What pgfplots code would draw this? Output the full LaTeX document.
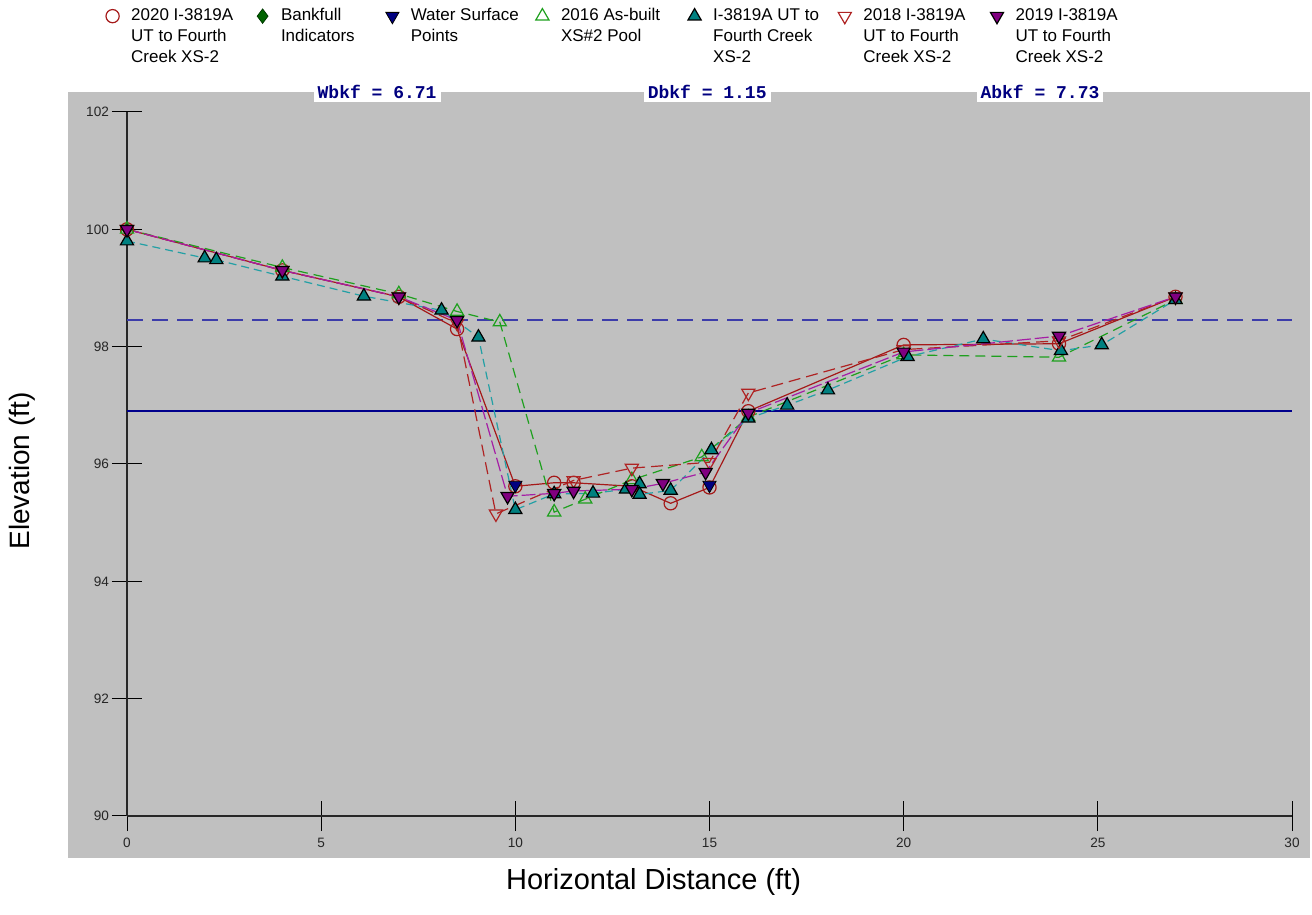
\documentclass[border=0pt]{standalone}
\usepackage{fontspec}
\setmainfont{Liberation Sans}
\newfontfamily\monob{Liberation Mono}
\usepackage{pgfplots}
\pgfplotsset{compat=1.18}
\definecolor{bggray}{RGB}{192,192,192}
\definecolor{c2020}{RGB}{165,25,25}
\definecolor{c2018}{RGB}{175,35,35}
\definecolor{c2019l}{RGB}{165,30,165}
\definecolor{c2019f}{RGB}{128,0,128}
\definecolor{tealf}{RGB}{0,128,128}
\definecolor{teall}{RGB}{35,160,165}
\definecolor{green16}{RGB}{30,160,30}
\definecolor{bkfgreen}{RGB}{0,100,0}
\definecolor{navyc}{RGB}{0,0,128}
\definecolor{bkfline}{RGB}{60,60,170}
\definecolor{wsline}{RGB}{0,0,140}
\begin{document}
\begin{tikzpicture}[x=1pt,y=1pt]
\useasboundingbox (0,0) rectangle (656,457.5);
\fill[white] (0,0) rectangle (656,457.5);
\fill[bggray] (34,28.5) rectangle (655,411.5);
\begin{axis}[
  at={(63.5pt,49.5pt)}, anchor=south west,
  scale only axis, width=582.5pt, height=352pt,
  xmin=0, xmax=30, ymin=90, ymax=102,
  axis lines*=left,
  axis line style={line width=1pt, black!85},
  xtick={0,5,...,30}, ytick={90,92,...,102},
  tick align=center, major tick length=15pt,
  tick style={black, line width=0.5pt},
  /pgf/number format/assume math mode=true,
  ticklabel style={font=\fontsize{6.8}{7}\selectfont, text=black!85},
  yticklabel style={xshift=2pt},
  xlabel={Horizontal Distance (ft)},
  ylabel={Elevation (ft)},
  xlabel style={at={(axis description cs:0.452,-0.094)}, anchor=center, font=\fontsize{14.5}{17}\selectfont},
  ylabel style={at={(axis description cs:-0.0901,0.49)}, anchor=center, font=\fontsize{14}{17}\selectfont},
  clip=false,
  legend columns=7,
  legend style={at={(axis description cs:-0.0206,1.147)}, anchor=north west,
    draw=none, fill=none, inner sep=0pt, outer sep=0pt, column sep=0pt,
    font=\fontsize{8.5}{10.5}\selectfont,
    nodes={inner xsep=4.5pt, inner ysep=0pt}},
  legend cell align=left,
  legend image code/.code={\path (0pt,0pt) (9pt,0pt); \draw[#1] plot[only marks] coordinates {(4.5pt,0pt)};},
]
% horizontal lines
\addplot[bkfline, line width=0.8pt, dash pattern=on 8pt off 4.5pt, forget plot] coordinates {(0,98.45) (30,98.45)};
\addplot[wsline, line width=1.3pt, forget plot] coordinates {(0,96.9) (30,96.9)};

% 2020
\addplot[c2020, line width=0.6pt, mark=o, mark size=3.3pt, mark options={solid}] coordinates {
(0,100) (4,99.3) (7,98.85) (8.5,98.3) (10,95.62) (11,95.68) (11.5,95.68) (13,95.62) (14,95.33) (15,95.6) (16,96.9) (20,98.03) (24,98.05) (27,98.85)};
\addlegendentry{\parbox[t]{56.5pt}{\raggedright 2020 I-3819A\\UT to Fourth\\Creek XS-2}}

\addlegendimage{only marks, mark=diamond*, mark size=3.6pt, mark options={fill=bkfgreen, draw=bkfgreen!60!black}}
\addlegendentry{\parbox[t]{46.5pt}{\raggedright Bankfull\\Indicators}}

% Water surface
\addplot[only marks, mark=triangle*, mark size=3.8pt, mark options={rotate=180, fill=navyc, draw=black}] coordinates {(10,95.64) (15,95.64)};
\addlegendentry{\parbox[t]{56.5pt}{\raggedright Water Surface\\Points}}

% 2016 as-built
\addplot[green16, line width=0.6pt, dash pattern=on 5pt off 3pt, mark=triangle, mark size=3.8pt, mark options={solid}] coordinates {
(0,100) (4,99.35) (7,98.9) (8.5,98.6) (9.6,98.42) (11,95.18) (11.8,95.4) (13,95.73) (14.8,96.12) (16,96.8) (20,97.86) (24,97.82) (27,98.8)};
\addlegendentry{\parbox[t]{57.5pt}{\raggedright 2016 As-built\\XS\#2 Pool}}

% teal
\addplot[teall, line width=0.6pt, dash pattern=on 4pt off 2.5pt, mark=triangle*, mark size=3.8pt, mark options={solid, fill=tealf, draw=black}] coordinates {
(0,99.8) (2.0,99.51) (2.3,99.48) (4,99.2) (6.1,98.86) (8.1,98.62) (9.05,98.16) (10,95.22) (11,95.49) (12,95.5) (12.85,95.57) (13.2,95.66) (13.2,95.48) (14,95.55) (15.05,96.24) (16,96.78) (17,97.0) (18.05,97.26) (20.1,97.83) (22.05,98.13) (24.05,97.93) (25.1,98.03) (27,98.8)};
\addlegendentry{\parbox[t]{56.5pt}{\raggedright I-3819A UT to\\Fourth Creek\\XS-2}}

% 2018
\addplot[c2018, line width=0.6pt, dash pattern=on 6pt off 3pt, mark=triangle, mark size=3.8pt, mark options={solid, rotate=180}] coordinates {
(0,100) (4,99.3) (7,98.85) (8.5,98.4) (9.5,95.15) (11.5,95.72) (13,95.93) (15,96.03) (16,97.21) (20,97.95) (24,98.1) (27,98.85)};
\addlegendentry{\parbox[t]{57.5pt}{\raggedright 2018 I-3819A\\UT to Fourth\\Creek XS-2}}

% 2019
\addplot[c2019l, line width=0.6pt, dash pattern=on 7pt off 2pt, mark=triangle*, mark size=3.8pt, mark options={solid, rotate=180, fill=c2019f, draw=black}] coordinates {
(0,100) (4,99.3) (7,98.85) (8.5,98.45) (9.8,95.45) (11,95.5) (11.5,95.54) (13,95.57) (13.8,95.67) (14.9,95.86) (16,96.87) (20,97.91) (24,98.18) (27,98.85)};
\addlegendentry{\parbox[t]{57.5pt}{\raggedright 2019 I-3819A\\UT to Fourth\\Creek XS-2}}

\node[fill=white, inner xsep=2pt, inner ysep=1.5pt, text=navyc, font=\monob\bfseries\fontsize{9}{10}\selectfont, yshift=10pt] at (6.44,102) {Wbkf = 6.71};
\node[fill=white, inner xsep=2pt, inner ysep=1.5pt, text=navyc, font=\monob\bfseries\fontsize{9}{10}\selectfont, yshift=10pt] at (14.94,102) {Dbkf = 1.15};
\node[fill=white, inner xsep=2pt, inner ysep=1.5pt, text=navyc, font=\monob\bfseries\fontsize{9}{10}\selectfont, yshift=10pt] at (23.51,102) {Abkf = 7.73};
\end{axis}
\end{tikzpicture}
\end{document}
